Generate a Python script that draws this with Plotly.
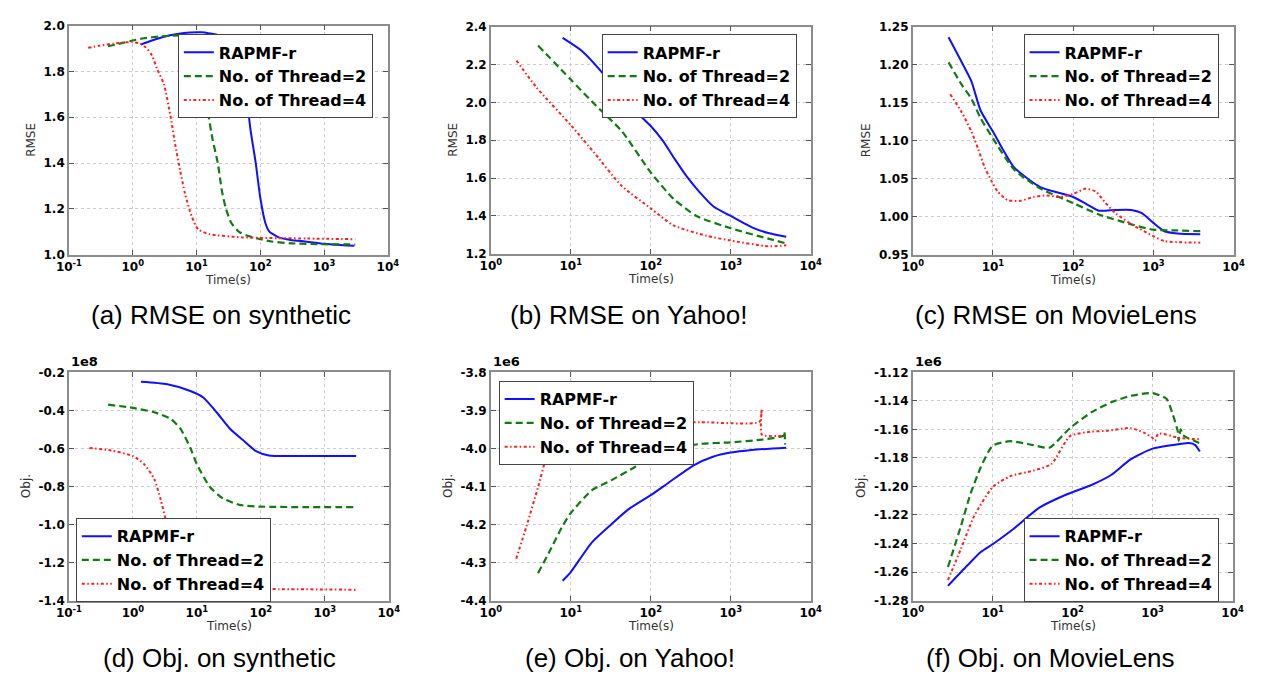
import plotly.graph_objects as go

W, H = 1272, 681

# ---------------- data ----------------
series_names = ["RAPMF-r", "No. of Thread=2", "No. of Thread=4"]

# (a) RMSE on synthetic
a_blue_x = [1.34, 2, 3, 5, 8, 12, 16, 25, 35, 45, 55, 62, 70, 85, 100, 120, 140, 170, 200, 300, 500, 1000, 2000, 3000]
a_blue_y = [1.917, 1.935, 1.950, 1.963, 1.970, 1.971, 1.966, 1.955, 1.93, 1.88, 1.78, 1.68, 1.55, 1.40, 1.25, 1.14, 1.10, 1.085, 1.075, 1.065, 1.058, 1.048, 1.042, 1.04]
a_green_x = [0.41, 0.6, 1.0, 1.5, 2.7, 4, 6.2, 8, 10, 12, 13.5, 15, 18, 21.6, 25, 29, 35, 46.5, 60, 94, 150, 309, 1000, 3090]
a_green_y = [1.91, 1.92, 1.935, 1.945, 1.953, 1.956, 1.958, 1.955, 1.94, 1.88, 1.77, 1.632, 1.50, 1.40, 1.28, 1.20, 1.14, 1.10, 1.085, 1.07, 1.058, 1.05, 1.046, 1.045]
a_red_x = [0.2, 0.3, 0.5, 0.8, 1.0, 1.3, 1.6, 2.0, 2.42, 3.07, 3.89, 4.64, 5.54, 6.6, 8.4, 10.6, 16, 52, 550, 3090]
a_red_y = [1.903, 1.912, 1.922, 1.927, 1.927, 1.922, 1.905, 1.87, 1.81, 1.746, 1.61, 1.482, 1.368, 1.268, 1.168, 1.111, 1.09, 1.076, 1.071, 1.068]

# (b) RMSE on Yahoo!
b_blue_x = [7.9, 13.9, 24.4, 47, 100, 140, 200, 280, 400, 610, 1000, 1840, 2950, 4950]
b_blue_y = [2.34, 2.27, 2.16, 2.01, 1.875, 1.80, 1.70, 1.61, 1.53, 1.45, 1.40, 1.34, 1.31, 1.29]
b_green_x = [3.9, 10, 20.3, 43, 100, 193, 373, 1000, 2950, 4950]
b_green_y = [2.30, 2.12, 1.986, 1.85, 1.63, 1.49, 1.40, 1.335, 1.28, 1.255]
b_red_x = [2.1, 3.7, 10, 20, 43, 100, 193, 500, 1000, 2950, 4950]
b_red_y = [2.22, 2.08, 1.88, 1.73, 1.56, 1.44, 1.35, 1.295, 1.27, 1.24, 1.245]

# (c) RMSE on MovieLens
c_blue_x = [2.8, 4, 5.4, 7, 10, 18.4, 39, 100, 145, 210, 335, 533, 710, 1000, 1370, 2000, 3850]
c_blue_y = [1.236, 1.205, 1.178, 1.14, 1.112, 1.065, 1.039, 1.026, 1.017, 1.008, 1.009, 1.009, 1.005, 0.992, 0.981, 0.978, 0.977]
c_green_x = [2.8, 4, 5.4, 7, 10, 18.4, 39, 100, 210, 533, 1000, 2000, 3850]
c_green_y = [1.203, 1.175, 1.155, 1.13, 1.103, 1.062, 1.037, 1.018, 1.003, 0.99, 0.983, 0.982, 0.981]
c_red_x = [2.94, 4.08, 5.4, 6.5, 7.9, 9.5, 11.5, 15.2, 22, 32, 46.8, 68, 100, 145, 192, 254, 335, 535, 980, 1370, 3850]
c_red_y = [1.161, 1.1375, 1.112, 1.090, 1.065, 1.048, 1.033, 1.022, 1.021, 1.026, 1.028, 1.026, 1.030, 1.037, 1.033, 1.018, 1.005, 0.990, 0.975, 0.968, 0.966]

# (d) Obj. on synthetic (x 1e8)
d_blue_x = [1.34, 3.45, 7.9, 12.6, 20.3, 32.6, 52, 84, 134, 305, 3090]
d_blue_y = [-0.25, -0.263, -0.298, -0.332, -0.41, -0.495, -0.555, -0.614, -0.637, -0.64, -0.64]
d_green_x = [0.41, 1.0, 2.15, 3.9, 5.5, 7.9, 10, 16, 25.6, 46.5, 94, 3090]
d_green_y = [-0.37, -0.387, -0.41, -0.445, -0.495, -0.597, -0.683, -0.803, -0.863, -0.897, -0.906, -0.909]
d_red_x = [0.21, 0.46, 1.0, 1.5, 2.15, 2.73, 3.26, 4.5, 6, 10, 20, 50, 190, 3090]
d_red_y = [-0.598, -0.611, -0.64, -0.683, -0.76, -0.871, -0.974, -1.12, -1.23, -1.30, -1.33, -1.338, -1.34, -1.343]

# (e) Obj. on Yahoo! (x 1e6)
e_blue_x = [7.9, 10, 18.4, 32, 52, 100, 160, 340, 600, 1000, 1840, 4950]
e_blue_y = [-4.348, -4.325, -4.247, -4.2, -4.161, -4.123, -4.093, -4.045, -4.022, -4.011, -4.004, -3.998]
e_green_x = [3.9, 5.4, 7.9, 10, 18.4, 32, 62, 100, 200, 425, 1000, 2440, 4600, 4700, 4800]
e_green_y = [-4.328, -4.272, -4.204, -4.17, -4.11, -4.084, -4.05, -4.024, -4.0, -3.988, -3.984, -3.977, -3.966, -3.955, -3.99]
e_red_x = [2.08, 2.8, 3.9, 4.9, 7, 10, 30, 100, 410, 2300, 2440, 2460, 4660]
e_red_y = [-4.29, -4.204, -4.102, -4.028, -3.97, -3.95, -3.94, -3.935, -3.931, -3.93, -3.896, -3.964, -3.966]

# (f) Obj. on MovieLens (x 1e6)
f_blue_x = [2.76, 4.85, 7.1, 10, 18, 38, 81, 172, 303, 530, 1000, 1800, 2850, 3420, 3900]
f_blue_y = [-1.2697, -1.2553, -1.246, -1.2405, -1.23, -1.215, -1.206, -1.199, -1.192, -1.181, -1.1735, -1.171, -1.1696, -1.171, -1.1755]
f_green_x = [2.76, 4.0, 5.3, 7.1, 10, 16.6, 32, 51, 93, 172, 303, 530, 1000, 1500, 1800, 2070, 2120, 2250, 2400, 3820]
f_green_y = [-1.2565, -1.228, -1.205, -1.1866, -1.1715, -1.1683, -1.171, -1.1729, -1.159, -1.148, -1.141, -1.1365, -1.1346, -1.1387, -1.150, -1.1616, -1.168, -1.160, -1.164, -1.1696]
f_red_x = [2.76, 4.0, 5.85, 10, 16.6, 32, 54, 93, 172, 270, 530, 780, 1000, 1075, 1180, 2180, 3900]
f_red_y = [-1.2656, -1.244, -1.221, -1.2005, -1.1928, -1.189, -1.1844, -1.1647, -1.1616, -1.161, -1.159, -1.1623, -1.166, -1.168, -1.163, -1.166, -1.167]

panels = [
    dict(series=[(a_blue_x, a_blue_y), (a_green_x, a_green_y), (a_red_x, a_red_y)],
         box=(57, 382, 19, 253), xr=(-1, 4), yr=(1.0, 2.0),
         yt=[1.0, 1.2, 1.4, 1.6, 1.8, 2.0], ytt=["1.0", "1.2", "1.4", "1.6", "1.8", "2.0"],
         ylabel="RMSE", ylab_x=19, caption="(a) RMSE on synthetic", cap_x=212, cap_y=314,
         leg=(168, 28), offset=None),
    dict(series=[(b_blue_x, b_blue_y), (b_green_x, b_green_y), (b_red_x, b_red_y)],
         box=(487, 813, 20, 252), xr=(0, 4), yr=(1.2, 2.4),
         yt=[1.2, 1.4, 1.6, 1.8, 2.0, 2.2, 2.4], ytt=["1.2", "1.4", "1.6", "1.8", "2.0", "2.2", "2.4"],
         ylabel="RMSE", ylab_x=449, caption="(b) RMSE on Yahoo!", cap_x=628, cap_y=314,
         leg=(600, 28), offset=None),
    dict(series=[(c_blue_x, c_blue_y), (c_green_x, c_green_y), (c_red_x, c_red_y)],
         box=(917, 1244, 20, 253), xr=(0, 4), yr=(0.95, 1.25),
         yt=[0.95, 1.0, 1.05, 1.1, 1.15, 1.2, 1.25], ytt=["0.95", "1.00", "1.05", "1.10", "1.15", "1.20", "1.25"],
         ylabel="RMSE", ylab_x=869, caption="(c) RMSE on MovieLens", cap_x=1063, cap_y=314,
         leg=(1030, 28), offset=None),
    dict(series=[(d_blue_x, d_blue_y), (d_green_x, d_green_y), (d_red_x, d_red_y)],
         box=(57, 383, 373, 606), xr=(-1, 4), yr=(-1.4, -0.2),
         yt=[-1.4, -1.2, -1.0, -0.8, -0.6, -0.4, -0.2], ytt=["-1.4", "-1.2", "-1.0", "-0.8", "-0.6", "-0.4", "-0.2"],
         ylabel="Obj.", ylab_x=14, caption="(d) Obj. on synthetic", cap_x=210, cap_y=665,
         leg=(64, 522), offset="1e8"),
    dict(series=[(e_blue_x, e_blue_y), (e_green_x, e_green_y), (e_red_x, e_red_y)],
         box=(487, 813, 373, 606), xr=(0, 4), yr=(-4.4, -3.8),
         yt=[-4.4, -4.3, -4.2, -4.1, -4.0, -3.9, -3.8], ytt=["-4.4", "-4.3", "-4.2", "-4.1", "-4.0", "-3.9", "-3.8"],
         ylabel="Obj.", ylab_x=444, caption="(e) Obj. on Yahoo!", cap_x=629, cap_y=665,
         leg=(495, 382), offset="1e6"),
    dict(series=[(f_blue_x, f_blue_y), (f_green_x, f_green_y), (f_red_x, f_red_y)],
         box=(917, 1243, 373, 606), xr=(0, 4), yr=(-1.28, -1.12),
         yt=[-1.28, -1.26, -1.24, -1.22, -1.2, -1.18, -1.16, -1.14, -1.12],
         ytt=["-1.28", "-1.26", "-1.24", "-1.22", "-1.20", "-1.18", "-1.16", "-1.14", "-1.12"],
         ylabel="Obj.", ylab_x=865, caption="(f) Obj. on MovieLens", cap_x=1057, cap_y=665,
         leg=(1030, 522), offset="1e6"),
]

x_tickvals = [0.1, 1, 10, 100, 1000, 10000]
x_ticktext = ["10<sup>-1</sup>", "10<sup>0</sup>", "10<sup>1</sup>", "10<sup>2</sup>", "10<sup>3</sup>", "10<sup>4</sup>"]

styles = [
    dict(color="#1010ff", width=2, dash="solid"),
    dict(color="#137a13", width=2.2, dash="7px,4px"),
    dict(color="#ff2020", width=2, dash="3px,2.5px,1.5px,2.5px"),
]

fig = go.Figure()
layout = dict(width=W, height=H, margin=dict(l=0, r=0, t=0, b=0), autosize=False,
              paper_bgcolor="white", plot_bgcolor="white", annotations=[])

tick_font = dict(family="DejaVu Sans", size=12, color="black", weight="bold")

for i, p in enumerate(panels):
    k = "" if i == 0 else str(i + 1)
    l, r, t, b = p["box"]
    for j, (xs, ys) in enumerate(p["series"]):
        fig.add_trace(go.Scatter(
            x=xs, y=ys, mode="lines", name=series_names[j],
            line=dict(color=styles[j]["color"], width=styles[j]["width"], dash=styles[j]["dash"],
                      shape="spline", smoothing=0.6),
            xaxis="x" + k, yaxis="y" + k, legend="legend" + k, showlegend=True))
    layout["xaxis" + k] = dict(
        type="log", domain=[l / W, r / W], range=list(p["xr"]), anchor="y" + k,
        tickvals=x_tickvals, ticktext=x_ticktext, tickfont=tick_font,
        showline=True, mirror="ticks", linecolor="#8c8c8c", linewidth=1.5,
        ticks="inside", ticklen=5, tickcolor="#555",
        showgrid=True, gridcolor="#cccccc", griddash="dot", gridwidth=1, zeroline=False)
    layout["yaxis" + k] = dict(
        domain=[1 - b / H, 1 - t / H], range=list(p["yr"]), anchor="x" + k,
        tickvals=p["yt"], ticktext=p["ytt"], tickfont=tick_font,
        showline=True, mirror="ticks", linecolor="#8c8c8c", linewidth=1.5,
        ticks="inside", ticklen=5, tickcolor="#555",
        showgrid=True, gridcolor="#cccccc", griddash="dot", gridwidth=1, zeroline=False)
    lx, ly = p["leg"]
    layout["legend" + k] = dict(
        x=lx / W, y=1 - ly / H, xanchor="left", yanchor="top",
        bgcolor="white", bordercolor="#444", borderwidth=1,
        font=dict(family="DejaVu Sans", size=16, color="black", weight="bold"),
        itemwidth=30, tracegroupgap=0)
    # axis titles
    layout["annotations"].append(dict(
        text="Time(s)", x=(l + r) / 2 / W, y=1 - (b + 26) / H, xref="paper", yref="paper",
        xanchor="center", yanchor="middle",
        showarrow=False, font=dict(family="DejaVu Sans", size=12, color="#333")))
    layout["annotations"].append(dict(
        text=p["ylabel"], x=p["ylab_x"] / W, y=1 - (t + b) / 2 / H, xref="paper", yref="paper",
        xanchor="center", yanchor="middle",
        textangle=-90, showarrow=False, font=dict(family="DejaVu Sans", size=12, color="#333")))
    layout["annotations"].append(dict(
        text=p["caption"], x=p["cap_x"] / W, y=1 - p["cap_y"] / H, xref="paper", yref="paper",
        xanchor="center", yanchor="middle",
        showarrow=False, font=dict(family="Liberation Sans", size=26, color="black")))
    if p["offset"]:
        layout["annotations"].append(dict(
            text=p["offset"], x=l / W, y=1 - (t - 1) / H, xref="paper", yref="paper",
            xanchor="left", yanchor="bottom", showarrow=False,
            font=dict(family="DejaVu Sans", size=13, color="black", weight="bold")))

fig.update_layout(**layout)
fig.write_html("out.html", config={"displayModeBar": False},
               post_script="document.body.style.margin='0';document.body.style.overflow='hidden';")
